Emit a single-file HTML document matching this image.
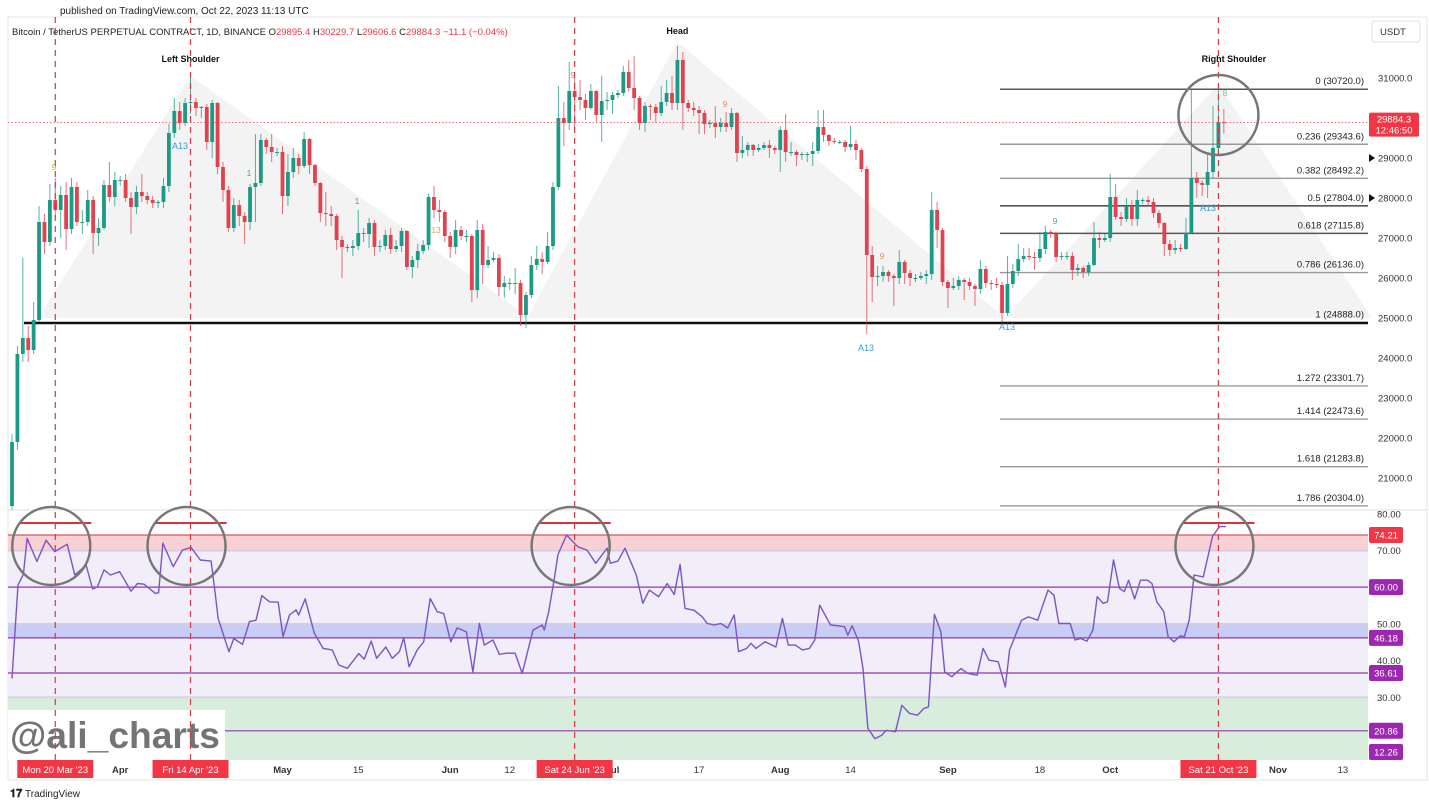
<!DOCTYPE html>
<html><head><meta charset="utf-8"><style>
html,body{margin:0;padding:0;background:#fff;}
svg{display:block;font-family:"Liberation Sans",Arial,sans-serif;}
</style></head><body>
<svg id="chart" width="1429" height="805" viewBox="0 0 1429 805" xmlns="http://www.w3.org/2000/svg">
<text x="60" y="14" font-size="10" fill="#222">published on TradingView.com, Oct 22, 2023 11:13 UTC</text>
<rect x="8" y="17" width="1419" height="763" fill="none" stroke="#e6e6e6"/>
<g id="bg"></g>
<g id="fib"></g>
<g id="candles"></g>
<g id="rsi"></g>
<g id="over"></g>
<text x="12" y="35" font-size="9.5" fill="#222">Bitcoin / TetherUS PERPETUAL CONTRACT, 1D, BINANCE <tspan fill="#222">O</tspan><tspan fill="#f23645">29895.4</tspan> <tspan>H</tspan><tspan fill="#f23645">30229.7</tspan> <tspan>L</tspan><tspan fill="#f23645">29606.6</tspan> <tspan>C</tspan><tspan fill="#f23645">29884.3</tspan> <tspan fill="#f23645">−11.1 (−0.04%)</tspan></text>
<rect x="1372" y="21" width="48" height="21" rx="3" fill="#fff" stroke="#e0e0e0"/>
<text x="1380" y="35" font-size="9.5" fill="#333">USDT</text>
<rect x="8" y="710" width="217" height="50" fill="#fff"/>
<text x="10" y="748" font-size="37" font-weight="bold" fill="#747474" textLength="210" lengthAdjust="spacingAndGlyphs">@ali_charts</text>
<text x="10" y="797" font-size="11" font-weight="bold" fill="#222">𝟏𝟕</text>
<text x="25" y="797" font-size="10" fill="#222">TradingView</text>
</svg>
<script>
const closes=[21900,24100,24500,24200,24950,27400,26900,27950,27700,28075,27225,28275,27400,27400,27950,27125,27250,28325,28025,28450,28450,28000,27775,28150,28050,27950,27875,27900,28300,29625,30175,29875,30375,30400,30250,30275,29400,30375,28775,28200,27250,27825,27550,27400,28275,28375,29450,29275,29150,29150,28050,28650,29000,28800,29475,28825,28375,27625,27600,27550,26950,26775,26750,26800,27125,27100,27375,26775,26800,27075,26725,26800,27175,26275,26450,26675,26825,28025,27700,27650,27050,26775,27200,27050,27050,25700,27200,26325,26450,26500,25775,25875,25875,25875,25075,25575,26325,26475,26400,26800,28275,30000,29875,30675,30525,30450,30250,30675,30075,30425,30450,30575,30625,31150,30750,30500,29875,30300,30275,30125,30400,30625,30375,31450,30375,30250,30200,30125,29850,29875,29775,29875,29775,30125,29125,29200,29325,29200,29250,29325,29250,29200,29700,29150,29150,29075,29100,29100,29175,29775,29575,29425,29400,29400,29275,29350,29200,28725,26575,26025,26050,26150,26050,26000,26400,26125,26000,26000,26050,26100,27700,27200,25900,25750,25800,25950,25900,25800,25725,26225,25875,25850,25825,25125,25850,26175,26475,26550,26525,26500,26725,27150,27100,26525,26550,26550,26200,26250,26150,26325,27000,26950,27000,28025,27525,27475,27800,27475,27950,27950,27900,27625,27375,26850,26700,26750,26725,27125,28500,28375,28325,28650,29250,29895,29884];
const firstOpen=20300;
const highs=[22100,24300,26500,24800,25400,27800,27600,28350,28500,28300,28400,28500,28400,27700,28200,28050,27500,28450,28900,28650,28550,28600,28150,28300,28600,28150,28050,27950,28500,29850,30500,30400,30500,31000,30500,30300,30350,30450,30400,28900,28300,28000,27950,27650,28350,29600,29600,29500,29600,29250,29300,29100,29250,29100,29650,29500,28850,28400,28150,27800,27600,27050,26850,26950,27700,27250,27500,27450,26950,27200,27250,26950,27250,27200,26550,26850,26950,28100,28300,27950,27700,27150,27450,27300,27200,27100,27450,27350,26800,26650,26600,26050,26000,26250,25950,25650,26550,26800,26650,27150,28400,30800,30400,31400,31000,30950,30600,30850,30700,31050,30650,30650,30700,31300,31450,31550,30550,30400,30350,30350,30800,30950,31050,31800,31650,30450,30400,30300,30200,29950,30300,30000,30150,30250,30150,29550,29400,29350,29350,29400,29450,29300,29800,30100,29400,29200,29150,29150,29400,30200,30200,29600,29500,29450,29450,29800,29450,29250,28800,26800,26300,26300,26200,26100,26700,26450,26200,26100,26150,26200,28150,27900,27250,25950,26000,26050,26000,26000,25850,26450,26300,25950,26000,25900,26550,26350,26850,26750,26750,26650,27150,27300,27200,27150,26650,26650,26650,26350,26300,26400,27400,27150,27100,28600,28350,27650,28000,27950,28200,28000,28050,28000,27700,27400,26950,26950,26850,27500,30700,28650,28450,29150,30300,30720,30229];
const lows=[20200,21700,23900,23900,24100,24900,26600,26800,27500,27000,26700,27100,27300,27100,27300,26600,26800,27200,27900,27800,28300,27900,27100,27600,27900,27850,27750,27750,27750,28150,29500,29700,29800,30100,30050,30000,29200,29000,28600,27900,27150,27150,27300,26850,27200,27400,28300,29100,28900,29050,27600,27800,28500,28600,28750,28600,28300,27400,27300,27300,26700,26000,26650,26550,26700,26900,26750,26550,26650,26700,26600,26650,26650,26200,26000,26250,26600,26700,27500,27400,26900,26500,26600,26950,26900,25400,25500,25850,26250,26400,25550,25500,25700,25600,24800,24750,25500,26200,26100,26350,26700,28200,29300,29700,29750,30200,29950,30200,29900,29400,30200,30100,30500,30550,30650,30200,29700,29650,29950,29900,30050,30300,30200,30200,29700,30150,30050,29600,29600,29750,29500,29650,29650,29700,28900,29000,29050,29050,29150,29200,29000,29100,28650,28900,29050,28800,28950,28900,28800,29100,29400,29300,29350,29350,29150,29200,28950,28650,24600,25400,25800,25900,25900,25300,25850,25850,25800,25900,25950,25850,25950,26750,25800,25250,25700,25700,25450,25700,25300,25600,25750,25700,25750,24900,25050,25750,26050,26400,26450,26200,26400,26600,27000,26400,26450,26450,25950,26050,26000,26050,26300,26750,26900,26900,27450,27300,27400,27300,27300,27850,27800,27500,27250,26550,26550,26600,26650,26700,27100,28000,28050,28000,28500,29150,29606];
const rsiDay=[0,1.1,2.1,2.8,4.6,6.3,7.9,10.2,11.6,13.7,14.9,15.8,17,18.2,19.9,22,23.2,24.4,26.5,27.1,27.9,29.8,31.5,33.1,34.8,36.8,37.5,38.1,40.1,41,42.6,43.9,45.1,46.2,47.6,49.2,50.1,51.3,52.5,53,54.2,55.9,57.5,59.2,60.4,62,64.1,65.1,66.4,67.4,69.1,70.3,71.6,72.4,73.4,74.9,76.1,77.3,78.6,79.8,81.1,82.3,84,85.2,86.4,87.3,88.9,90.1,91.4,93,94.3,96.3,98,98.4,99.2,100.3,100.9,102.5,104.6,106.3,107.9,110,110.6,112,113.3,115.4,116.6,117.8,119.5,121.1,122.4,123.5,124.4,126.1,127.6,128.5,129.8,131,132.3,133.5,134.3,135.8,136.6,137.5,139.2,141.2,142.4,143.5,144.8,146.1,147.4,148.4,149.3,151.3,152.6,153.9,154.5,155.3,156.5,157.3,158.2,159.5,160.8,161.6,163.3,164.5,165.9,167.4,168.5,169.4,170.5,171.7,172.4,173.7,175.4,176.7,178.4,179.5,180.6,182.3,183.6,184.4,186.6,187.9,189.6,191.5,192.6,193.5,195.6,196.5,197.5,198.7,199.8,200.6,201.7,202.5,203.6,204.7,205.6,206.4,207.5,208.6,209.9,210.7,211.6,212.9,213.7,214.8,215.9,216.7,217.6,218.5,220.2,221.9,223.2,224.4];
const rsiVal=[35.1,60.6,63.5,73.3,67,72.8,69.7,71.7,63.3,66,59.5,60.1,64.7,63.3,64.2,58.9,61,60.8,58.3,58.5,72,65.6,70.1,70.8,67.4,67.1,59,51.5,42.4,46,44.4,50.6,51,57.7,56,55.9,46.5,52.4,53.8,52.4,56.8,47.4,43.3,42.9,38.8,37.9,41.9,40.4,45.3,40.6,43.7,40.6,42.4,46.2,38.3,42.9,45.1,56.9,53.3,52.8,45.1,48.9,47.8,36.9,50.1,44.2,45.6,41.7,42,42,36.5,48.3,49.7,48.3,53.3,62.8,68.8,74.2,71,70.1,66.5,70.6,66.5,67.1,70.6,63.3,55.6,59.2,57.4,61,58,66.2,54.2,53.7,51.9,50.1,49.7,50.1,48.9,52.4,42.4,43.3,44.7,43.3,45.1,43.7,51.5,44.2,44.2,42.9,43.3,45.6,55.1,49.7,49.5,49.2,46.9,49.5,45.1,37.8,21.5,18.7,19.7,21,20.6,27.8,25.6,25.1,26.9,27.4,52.6,47.8,36.9,35.6,37.8,36.5,36,43.3,40.1,39.7,32.8,42.9,51,51.9,51,59.2,57.8,50.1,50.1,45.6,46,45.3,48.3,57.4,55.6,56,67.4,59.7,58.8,61.9,56.8,61.9,61.9,61,56,53.3,46.5,45.1,46.7,46.5,51,63.3,62.8,73.8,76.5,76.5];
const priceTicks=[31000,30000,29000,28000,27000,26000,25000,24000,23000,22000,21000];
const fibRatios=["0","0.236","0.382","0.5","0.618","0.786","1","1.272","1.414","1.618","1.786"];
const fibPrices=[30720.0,29343.6,28492.2,27804.0,27115.8,26136.0,24888.0,23301.7,22473.6,21283.8,20304.0];
const xTickLabels=["Apr","May","15","Jun","12","Jul","17","Aug","14","Sep","18","Oct","Nov","13"];
const xTickDays=[20,50,64,81,92,111,127,142,155,173,190,203,234,246];
const dateTagLabels=["Mon 20 Mar '23","Fri 14 Apr '23","Sat 24 Jun '23","Sat 21 Oct '23"];
const dateTagDays=[8,33,104,223];
const rsiLevels=[60,46.18,36.61,20.86];
const rsiScaleTicks=[80,70,50,40,30];
const hsLabels=["Left Shoulder","Head","Right Shoulder"];
const hsDays=[33,123,224];
const hsPrices=[31300,32000,31300];

const NS="http://www.w3.org/2000/svg";
const X=i=>12+i*5.41;
const Y=p=>318-(p-25000)*0.04;
const RY=r=>535+(74.21-r)*3.67;
function mk(parent,tag,attrs,text){const e=document.createElementNS(NS,tag);for(const k in attrs)e.setAttribute(k,attrs[k]);if(text!==undefined)e.textContent=text;document.getElementById(parent).appendChild(e);return e;}

let e=mk('bg','polygon',{points:`38,318 ${X(33)},${Y(31000)-2} 530,318`,fill:'#f3f3f3'});

e=mk('bg','polygon',{points:`527,318 ${X(123)},${Y(31900)} 1005,318`,fill:'#f3f3f3'});

e=mk('bg','polygon',{points:`1005,318 ${X(223)},${Y(30850)} 1372,318`,fill:'#f3f3f3'});


priceTicks.forEach(p=>{const t=mk('bg','text',{x:1378,y:Y(p)+3.5,'font-size':9.5,fill:'#333'},p.toFixed(1));
});
[29000,28000].forEach(p=>{const t=mk('bg','polygon',{points:`1369,${Y(p)-4} 1375,${Y(p)} 1369,${Y(p)+4}`,fill:'#111'});
});

fibPrices.forEach((p,k)=>{const y=Y(p);const dark=[0,3,6].includes(k);
const l=mk('fib','line',{x1:1000,x2:1368,y1:y,y2:y,stroke:dark?'#222':(k==4?'#555':'#999'),'stroke-width':dark?1.2:1.4});

const t=mk('fib','text',{x:1364,y:y-5,'font-size':9.5,fill:'#222','text-anchor':'end'},`${fibRatios[k]} (${p.toFixed(1)})`);
});
e=mk('fib','line',{x1:24,x2:1368,y1:323,y2:323,stroke:'#111','stroke-width':2.5});


closes.forEach((c,i)=>{const o=i==0?firstOpen:closes[i-1];const up=c>=o;const col=up?'#1b9a85':'#e0424f';const x=X(i);
const w=mk('candles','line',{x1:x,x2:x,y1:Y(highs[i]),y2:Y(lows[i]),stroke:col,'stroke-width':1,opacity:0.75});

const top=Y(Math.max(o,c)),bot=Y(Math.min(o,c));
const b=mk('candles','rect',{x:x-1.9,y:top,width:3.8,height:Math.max(1,bot-top),fill:col});
});

e=mk('over','line',{x1:8,x2:1368,y1:Y(29884.3),y2:Y(29884.3),stroke:'#e0424f','stroke-width':0.8,'stroke-dasharray':'1.5,2'});

e=mk('over','rect',{x:1369,y:Y(29884.3)-10,width:50,height:24,rx:2,fill:'#f23645'});

e=mk('over','text',{x:1394,y:Y(29884.3)+0,'font-size':9.5,fill:'#fff','text-anchor':'middle'},'29884.3');

e=mk('over','text',{x:1394,y:Y(29884.3)+11,'font-size':9.5,fill:'#fff','text-anchor':'middle'},'12:46:50');


hsLabels.forEach((s,k)=>{const t=mk('over','text',{x:X(hsDays[k])+(k==2?10:0),y:Y(hsPrices[k])-4,'font-size':9,'font-weight':'bold',fill:'#111','text-anchor':'middle'},s);
});
[[180,149,'A13','#3a9ad9'],[866,351,'A13','#3a9ad9'],[1007,330,'A13','#3a9ad9'],[1208,211,'A13','#3a9ad9'],[54,170,'9','#b5b52a'],[573,78,'9','#6cc04a'],[1055,224,'9','#46b07a'],[725,107,'9','#e98b5a'],[882,259,'9','#e98b5a'],[1225,96,'8','#6cc990'],[249,176,'1','#4caf50'],[357,204,'1','#4caf50'],[436,233,'13','#e2a83b']].forEach(m=>{
const t=mk('over','text',{x:m[0],y:m[1],'font-size':m[2]=='A13'?9:8.5,fill:m[3],'text-anchor':'middle'},m[2]);
});

e=mk('rsi','line',{x1:8,x2:1427,y1:510,y2:510,stroke:'#ddd'});

e=mk('rsi','rect',{x:8,y:RY(70),width:1360,height:RY(30)-RY(70),fill:'#f1edf9'});

e=mk('rsi','rect',{x:8,y:RY(74.21),width:1360,height:RY(70)-RY(74.21),fill:'#f9d0d3'});

e=mk('rsi','rect',{x:8,y:RY(50),width:1360,height:RY(46.18)-RY(50),fill:'#c8cdf6'});

e=mk('rsi','rect',{x:8,y:RY(30),width:1360,height:760-RY(30),fill:'#d8eddb'});

[[70,'#d8cce8'],[30,'#d6d6e6'],[50,'#d4cfe8']].forEach(a=>{const l=mk('rsi','line',{x1:8,x2:1368,y1:RY(a[0]),y2:RY(a[0]),stroke:a[1],'stroke-width':2});
});
e=mk('rsi','line',{x1:8,x2:1368,y1:RY(74.21),y2:RY(74.21),stroke:'#d9535f','stroke-width':1.2});

rsiLevels.forEach(r=>{const l=mk('rsi','line',{x1:8,x2:1368,y1:RY(r),y2:RY(r),stroke:'#8e3aa6','stroke-width':1.2});
});
rsiScaleTicks.forEach(r=>{const t=mk('rsi','text',{x:1377,y:RY(r)+3.5,'font-size':9.5,fill:'#333'},r.toFixed(2));
});
[[74.21,'#f23645'],[60,'#9c27b0'],[46.18,'#9c27b0'],[36.61,'#9c27b0'],[20.86,'#9c27b0'],[12.26,'#9c27b0']].forEach(a=>{
const yy=a[0]==12.26?752:RY(a[0]);
const r=mk('rsi','rect',{x:1369,y:yy-8,width:34,height:16,rx:2,fill:a[1]});

const t=mk('rsi','text',{x:1386,y:yy+3.5,'font-size':9.5,fill:'#fff','text-anchor':'middle'},a[0].toFixed(2));
});
const pts=rsiDay.map((d,k)=>`${X(d).toFixed(1)},${RY(rsiVal[k]).toFixed(1)}`).join(' ');
e=mk('rsi','polyline',{points:pts,fill:'none',stroke:'#7b55c4','stroke-width':1.4,'stroke-linejoin':'round'});


dateTagDays.forEach((d,k)=>{const x=X(d);
const l=mk('over','line',{x1:x,x2:x,y1:17,y2:760,stroke:'#d33a45','stroke-width':1.2,'stroke-dasharray':'6,5'});

const s=mk('over','line',{x1:x-36,x2:x+36,y1:523,y2:523,stroke:'#d9333f','stroke-width':2});

const c=mk('over','circle',{cx:x-4,cy:546,r:39,fill:'none',stroke:'#777','stroke-width':2.5});

const r=mk('over','rect',{x:x-38,y:760,width:76,height:18,fill:'#f23645'});

const t=mk('over','text',{x:x,y:773,'font-size':9.5,fill:'#fff','text-anchor':'middle'},dateTagLabels[k]);
});
e=mk('over','circle',{cx:X(223),cy:115,r:40,fill:'none',stroke:'#777','stroke-width':2.5});


xTickLabels.forEach((s,k)=>{const bold=isNaN(+s);
const t=mk('rsi','text',{x:X(xTickDays[k]),y:773,'font-size':9.5,'font-weight':bold?'bold':'normal',fill:'#333','text-anchor':'middle'},s);
});
document.getElementById('chart').appendChild(document.getElementById('over'));
</script>
</body></html>
